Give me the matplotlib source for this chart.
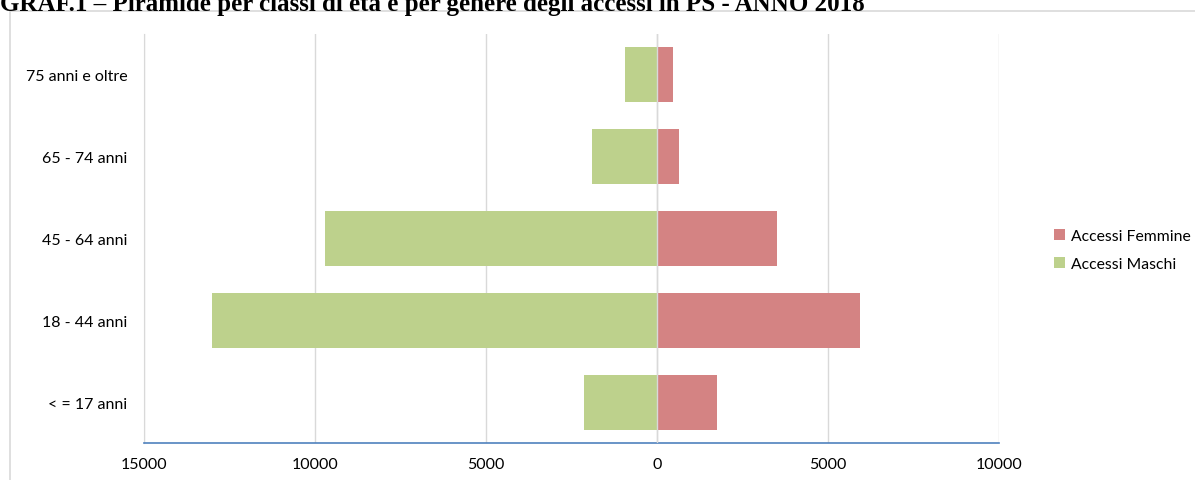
import matplotlib.pyplot as plt
import numpy as np
from matplotlib.patches import Rectangle

# dati
classi = ['< = 17 anni', '18 - 44 anni', '45 - 64 anni', '65 - 74 anni', '75 anni e oltre']
maschi = [2130, 13010, 9710, 1900, 940]
femmine = [1750, 5940, 3510, 640, 470]
xticks = [-15000, -10000, -5000, 0, 5000, 10000]
xlabels = ['15000', '10000', '5000', '0', '5000', '10000']

col_f = '#D48383'
col_m = '#BDD18C'

fig = plt.figure(figsize=(11.95, 4.81), dpi=100)
W, H = 1195, 481

# cornice dell'area grafico
fig.patches.append(Rectangle((10 / W, -0.1), 1.2, 1 - 12 / H + 0.1, transform=fig.transFigure,
                             fill=False, edgecolor='#D9D9D9', linewidth=1.2))

fig.text(0.0, 1 - 11.5 / H, 'GRAF.1 \u2013 Piramide per classi di et\u00e0 e per genere degli accessi in PS - ANNO 2018',
         family='Liberation Serif', fontweight='bold', fontsize=18, ha='left', va='baseline')

ax = fig.add_axes([144 / W, 1 - 444 / H, (999 - 144) / W, (444 - 35) / H])
y = np.arange(len(classi))
ax.barh(y, femmine, height=0.67, color=col_f, label='Accessi Femmine', zorder=2)
ax.barh(y, -np.array(maschi), height=0.67, color=col_m, label='Accessi Maschi', zorder=2)

ax.set_xlim(-15000, 10000)
ax.set_ylim(-0.5, 4.5)
ax.set_xticks(xticks)
ax.set_xticklabels(xlabels, family='Lato', fontsize=11.5)
ax.set_yticks(y)
ax.set_yticklabels(classi, family='Lato', fontsize=11.5)
ax.tick_params(length=0)
ax.tick_params(axis='x', pad=10)
ax.tick_params(axis='y', pad=12)
ax.grid(axis='x', color='#D9D9D9', linewidth=1, zorder=0)
ax.axvline(0, color='#D9D9D9', linewidth=1, zorder=3)
for s in ['top', 'right']:
    ax.spines[s].set_visible(False)
ax.spines['left'].set_color('#D9D9D9')
ax.spines['bottom'].set_color('#4F81BD')
ax.spines['bottom'].set_linewidth(1.2)

ax.legend(loc='center left', bbox_to_anchor=(1040 / W, 1 - 251 / H), bbox_transform=fig.transFigure,
          frameon=False, handlelength=0.7, handleheight=0.7, handletextpad=0.4, labelspacing=0.9,
          prop={'family': 'Lato', 'size': 11.3})

fig.savefig('out.png', dpi=100)
